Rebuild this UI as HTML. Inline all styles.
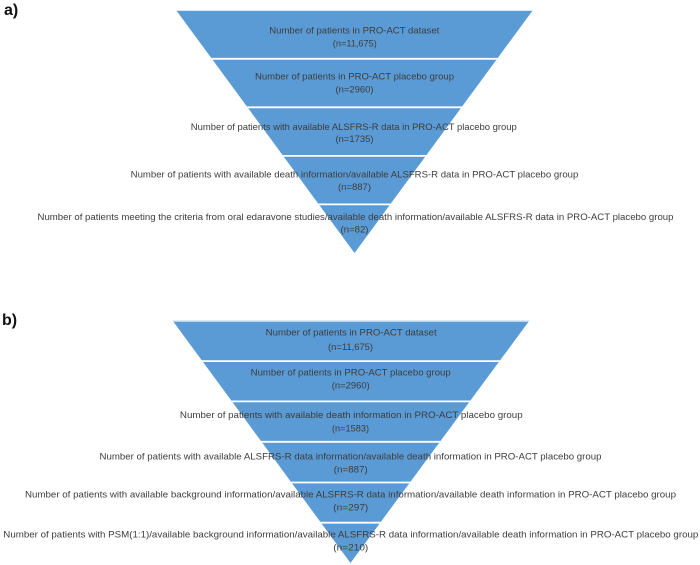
<!DOCTYPE html>
<html>
<head>
<meta charset="utf-8">
<style>
  html, body { margin:0; padding:0; background:#ffffff; }
  body { width:700px; height:565px; overflow:hidden; }
  svg { display:block; }
  .t { font-family:"Liberation Sans", Arial, sans-serif; font-size:9.5px; fill:#3c3c3c; }
  .lab { font-family:"Liberation Sans", Arial, sans-serif; font-size:16px; font-weight:bold; fill:#111; }
</style>
</head>
<body>
<svg width="700" height="565" viewBox="0 0 700 565" xmlns="http://www.w3.org/2000/svg">
  <defs>
    <clipPath id="ca"><polygon points="176,10 533,10 354.5,253"/></clipPath>
    <clipPath id="cb"><polygon points="172.7,320.7 529.3,320.7 350.5,563"/></clipPath>
  </defs>

  <text class="lab" x="4" y="15">a)</text>
  <text class="lab" x="2" y="325">b)</text>

  <!-- Pyramid a -->
  <polygon points="176,10 533,10 354.5,253" fill="#5B9BD5"/>
  <g clip-path="url(#ca)" stroke="#ffffff" stroke-width="1.8">
    <line x1="0" y1="10.5" x2="700" y2="10.5" stroke="#dce8f5" stroke-width="1"/>
    <line x1="0" y1="58.8" x2="700" y2="58.8"/>
    <line x1="0" y1="107.3" x2="700" y2="107.3"/>
    <line x1="0" y1="155.9" x2="700" y2="155.9"/>
    <line x1="0" y1="204.4" x2="700" y2="204.4"/>
  </g>

  <!-- Pyramid b -->
  <polygon points="172.7,320.7 529.3,320.7 350.5,563" fill="#5B9BD5"/>
  <g clip-path="url(#cb)" stroke="#ffffff" stroke-width="1.8">
    <line x1="0" y1="321.2" x2="700" y2="321.2" stroke="#dce8f5" stroke-width="1"/>
    <line x1="0" y1="361.1" x2="700" y2="361.1"/>
    <line x1="0" y1="401.4" x2="700" y2="401.4"/>
    <line x1="0" y1="441.8" x2="700" y2="441.8"/>
    <line x1="0" y1="482.5" x2="700" y2="482.5"/>
    <line x1="0" y1="522.7" x2="700" y2="522.7"/>
  </g>

  <!-- Text a -->
  <g class="t" text-anchor="middle">
    <text x="354.3" y="33.3" textLength="170" lengthAdjust="spacingAndGlyphs">Number of patients in PRO-ACT dataset</text>
    <text x="354.8" y="46.5" textLength="44" lengthAdjust="spacingAndGlyphs">(n=11,675)</text>

    <text x="354.5" y="79.3" textLength="199" lengthAdjust="spacingAndGlyphs">Number of patients in PRO-ACT placebo group</text>
    <text x="354.5" y="92.5" textLength="38" lengthAdjust="spacingAndGlyphs">(n=2960)</text>

    <text x="353.8" y="130" textLength="326" lengthAdjust="spacingAndGlyphs">Number of patients with available ALSFRS-R data in PRO-ACT placebo group</text>
    <text x="354.5" y="141.8" textLength="38" lengthAdjust="spacingAndGlyphs">(n=1735)</text>

    <text x="354.5" y="177.6" textLength="447.6" lengthAdjust="spacingAndGlyphs">Number of patients with available death information/available ALSFRS-R data in PRO-ACT placebo group</text>
    <text x="354.5" y="190" textLength="33" lengthAdjust="spacingAndGlyphs">(n=887)</text>

    <text x="355.5" y="219.8" textLength="636" lengthAdjust="spacingAndGlyphs">Number of patients meeting the criteria from oral edaravone studies/available death information/available ALSFRS-R data in PRO-ACT placebo group</text>
    <text x="354.5" y="232.6" textLength="28" lengthAdjust="spacingAndGlyphs">(n=82)</text>
  </g>

  <!-- Text b -->
  <g class="t" text-anchor="middle">
    <text x="351.2" y="335.6" textLength="171" lengthAdjust="spacingAndGlyphs">Number of patients in PRO-ACT dataset</text>
    <text x="350.5" y="350" textLength="45" lengthAdjust="spacingAndGlyphs">(n=11,675)</text>

    <text x="350.7" y="375.6" textLength="200" lengthAdjust="spacingAndGlyphs">Number of patients in PRO-ACT placebo group</text>
    <text x="350.8" y="388.3" textLength="38" lengthAdjust="spacingAndGlyphs">(n=2960)</text>

    <text x="351.3" y="417.8" textLength="342.7" lengthAdjust="spacingAndGlyphs">Number of patients with available death information in PRO-ACT placebo group</text>
    <text x="350.5" y="431.6" textLength="37" lengthAdjust="spacingAndGlyphs">(n=1583)</text>

    <text x="350.5" y="459.3" textLength="502" lengthAdjust="spacingAndGlyphs">Number of patients with available ALSFRS-R data information/available death information in PRO-ACT placebo group</text>
    <text x="350.8" y="472.3" textLength="34" lengthAdjust="spacingAndGlyphs">(n=887)</text>

    <text x="350.5" y="497.3" textLength="651" lengthAdjust="spacingAndGlyphs">Number of patients with available background information/available ALSFRS-R data information/available death information in PRO-ACT placebo group</text>
    <text x="350.8" y="510.4" textLength="35" lengthAdjust="spacingAndGlyphs">(n=297)</text>

    <text x="350.8" y="537.5" textLength="695" lengthAdjust="spacingAndGlyphs">Number of patients with PSM(1:1)/available background information/available ALSFRS-R data information/available death information in PRO-ACT placebo group</text>
    <text x="350.8" y="550.5" textLength="35" lengthAdjust="spacingAndGlyphs">(n=210)</text>
  </g>
</svg>
</body>
</html>
